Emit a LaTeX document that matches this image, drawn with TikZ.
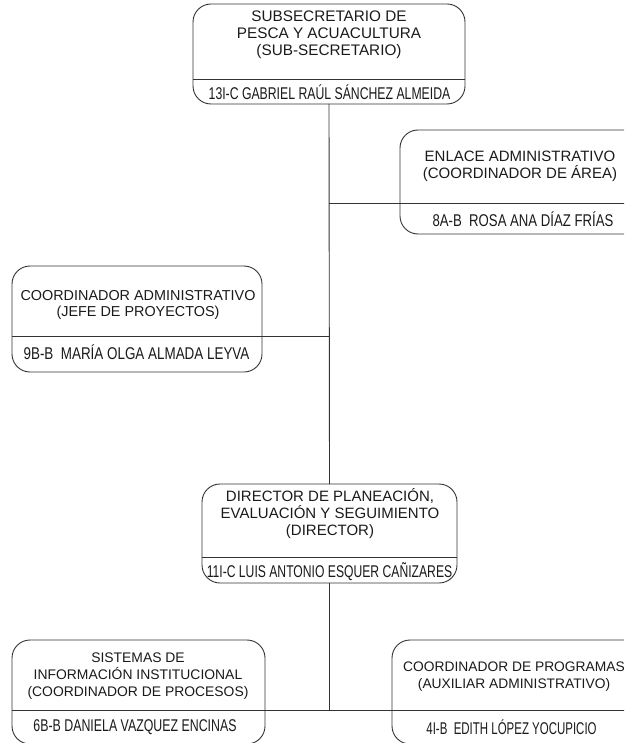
\documentclass[tikz,border=0pt]{standalone}
\usepackage{fontspec}
\setmainfont{Liberation Sans}
\newfontfamily\namefont[FakeStretch=0.745]{Liberation Sans}
\definecolor{linec}{HTML}{333333}
\definecolor{textc}{HTML}{1A1A1A}
\newcommand{\sxtxt}[2]{\scalebox{#1}[1]{#2}}
\begin{document}
\begin{tikzpicture}[x=1pt,y=-1pt,
  orgbox/.style={draw=linec, line width=0.9pt, rounded corners=18pt, rectangle, inner sep=0pt, outer sep=0pt},
  conn/.style={draw=linec, line width=0.9pt},
  headtxt/.style={text=textc, align=center, inner sep=0pt, font=\fontsize{#1}{16.8}\selectfont},
  headtxt/.default=14.6,
  nametxt/.style={text=textc, inner sep=0pt, font=\namefont\fontsize{17}{19}\selectfont}]
\useasboundingbox (0,0) rectangle (624,743);
\clip (0,0) rectangle (624,743);
% boxes
\node[orgbox, minimum width=272, minimum height=100] (top) at (329,54) {};
\node[orgbox, minimum width=250, minimum height=104] (enl) at (525,182) {};
\node[orgbox, minimum width=250, minimum height=106] (coo) at (137,319) {};
\node[orgbox, minimum width=255, minimum height=99] (dir) at (329.5,533.5) {};
\node[orgbox, minimum width=253, minimum height=104] (sis) at (138.5,692) {};
\node[orgbox, minimum width=258, minimum height=104] (prg) at (521,692) {};
% dividers
\coordinate (topd) at (0,79);
\coordinate (enld) at (0,203);
\coordinate (cood) at (0,336);
\coordinate (dird) at (0,557);
\coordinate (sisd) at (0,710);
\draw[conn] (top.west |- topd) -- (top.east |- topd);
\draw[conn] (enl.west |- enld) -- (enl.east |- enld);
\draw[conn] (coo.west |- cood) -- (coo.east |- cood);
\draw[conn] (dir.west |- dird) -- (dir.east |- dird);
\draw[conn] (sis.west |- sisd) -- (sis.east |- sisd);
\draw[conn] (prg.west |- sisd) -- (prg.east |- sisd);
% connectors
\coordinate (j1) at (top.south |- enld);
\coordinate (j2) at (top.south |- cood);
\coordinate (j3) at (dir.south |- sisd);
\draw[conn] (top.south) -- (dir.north);
\draw[conn] (j1) -- (enl.west |- enld);
\draw[conn] (j2) -- (coo.east |- cood);
\draw[conn] (dir.south) -- (j3);
\draw[conn] (sis.east |- sisd) -- (prg.west |- sisd);
% texts
\node[headtxt=15.3] (toph) at (329,35) {SUBSECRETARIO DE\\PESCA Y ACUACULTURA\\(SUB-SECRETARIO)};
\node[nametxt] (topn) at (329.5,92) {\sxtxt{0.967}{13I-C GABRIEL RAÚL SÁNCHEZ ALMEIDA}};
\node[headtxt=15] (enlh) at (520,166.5) {ENLACE ADMINISTRATIVO\\(COORDINADOR DE ÁREA)};
\node[nametxt] (enln) at (523,219) {\sxtxt{1.04}{8A-B\ \ ROSA ANA DÍAZ FRÍAS}};
\node[headtxt=14.4] (cooh) at (138,305) {COORDINADOR ADMINISTRATIVO\\(JEFE DE PROYECTOS)};
\node[nametxt] (coon) at (136.5,352) {\sxtxt{1.06}{9B-B\ \ MARÍA OLGA ALMADA LEYVA}};
\node[headtxt=15] (dirh) at (330,513.5) {DIRECTOR DE PLANEACIÓN,\\EVALUACIÓN Y SEGUIMIENTO\\(DIRECTOR)};
\node[nametxt] (dirn) at (329.5,572) {\sxtxt{0.96}{11I-C LUIS ANTONIO ESQUER CAÑIZARES}};
\node[headtxt=13.9] (sish) at (138,676) {SISTEMAS DE\\INFORMACIÓN INSTITUCIONAL\\(COORDINADOR DE PROCESOS)};
\node[nametxt] (sisn) at (135,727) {\sxtxt{0.976}{6B-B DANIELA VAZQUEZ ENCINAS}};
\node[headtxt=13.8] (prgh) at (514,676.5) {COORDINADOR DE PROGRAMAS\\(AUXILIAR ADMINISTRATIVO)};
\node[nametxt] (prgn) at (511.5,727) {\sxtxt{0.906}{4I-B\ \ EDITH LÓPEZ YOCUPICIO}};
\end{tikzpicture}
\end{document}
